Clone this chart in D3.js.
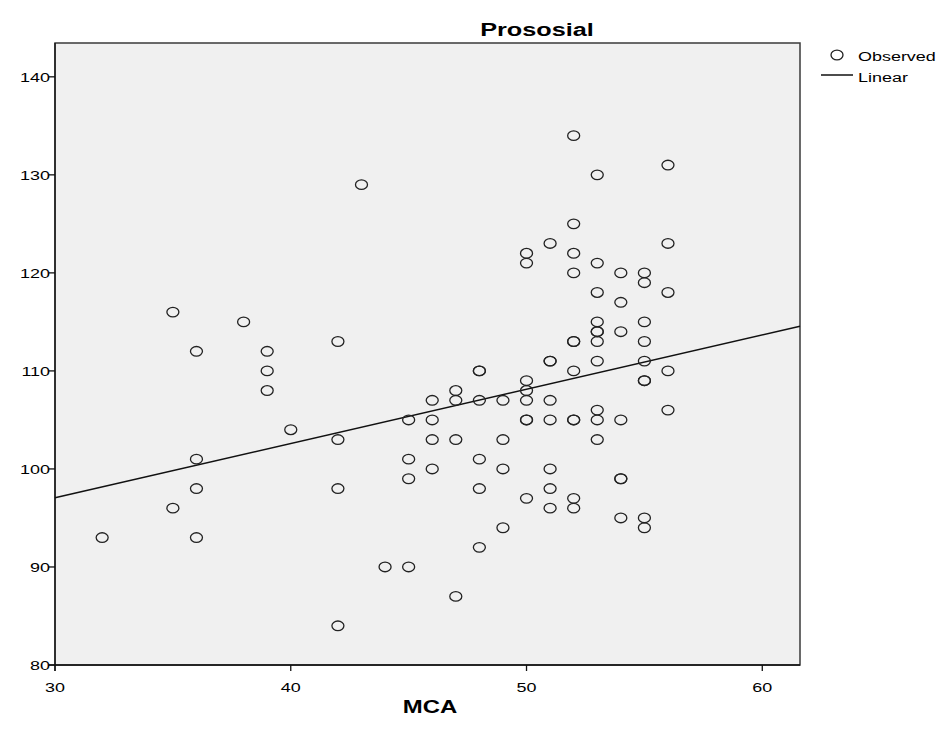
<!DOCTYPE html>
<html>
<head>
<meta charset="utf-8">
<script src="https://cdn.jsdelivr.net/npm/d3@7"></script>
<style>
	body { margin: 0; background: #fff; }
	text { font-family: "Liberation Sans", Arial, sans-serif; fill: #000; }
</style>
</head>
<body>
<svg id="chart" width="943" height="733"></svg>
<script>
// scatter values (duplicates drawn twice)
var mca = [
	32,
	35, 35,
	36, 36, 36, 36,
	38,
	39, 39, 39,
	40,
	42, 42, 42, 42,
	43,
	44,
	45, 45, 45, 45,
	46, 46, 46, 46,
	47, 47, 47, 47,
	48, 48, 48, 48, 48, 48,
	49, 49, 49, 49,
	50, 50, 50, 50, 50, 50, 50, 50,
	51, 51, 51, 51, 51, 51, 51, 51,
	52, 52, 52, 52, 52, 52, 52, 52, 52, 52, 52,
	53, 53, 53, 53, 53, 53, 53, 53, 53, 53, 53,
	54, 54, 54, 54, 54, 54, 54,
	55, 55, 55, 55, 55, 55, 55, 55, 55,
	56, 56, 56, 56, 56
];
var prososial = [
	93,
	116, 96,
	112, 101, 98, 93,
	115,
	112, 110, 108,
	104,
	113, 103, 98, 84,
	129,
	90,
	105, 101, 99, 90,
	107, 105, 103, 100,
	108, 107, 103, 87,
	110, 110, 107, 101, 98, 92,
	107, 103, 100, 94,
	122, 121, 109, 108, 107, 105, 105, 97,
	123, 111, 111, 107, 105, 100, 98, 96,
	134, 125, 122, 120, 113, 113, 110, 105, 105, 97, 96,
	130, 121, 118, 115, 114, 114, 113, 111, 106, 105, 103,
	120, 117, 114, 105, 99, 99, 95,
	120, 119, 115, 113, 111, 109, 109, 95, 94,
	131, 123, 118, 110, 106
];
var xTicks = [30, 40, 50, 60];
var yTicks = [80, 90, 100, 110, 120, 130, 140];
var legendLabels = ["Observed", "Linear"];

var svg = d3.select("#chart");
var plotLeft = 55, plotRight = 800, plotTop = 43, plotBottom = 665;
var stretch = 1.33; // glyphs in the original are wider than tall

var x = d3.scaleLinear().domain([30, 61.6]).range([plotLeft, plotRight]);
var y = d3.scaleLinear().domain([80, 143.45]).range([plotBottom, plotTop]);

// plot background
svg.append("rect")
	.attr("x", plotLeft).attr("y", plotTop)
	.attr("width", plotRight - plotLeft).attr("height", plotBottom - plotTop)
	.attr("fill", "#f0f0f0")
	.attr("stroke", "#3a3a3a")
	.attr("stroke-width", 1.5);

// linear fit from the data
var n = mca.length;
var mx = d3.mean(mca), my = d3.mean(prososial);
var sxy = 0, sxx = 0;
for (var i = 0; i < n; i++) {
	sxy += (mca[i] - mx) * (prososial[i] - my);
	sxx += (mca[i] - mx) * (mca[i] - mx);
}
var slope = sxy / sxx;
var intercept = my - slope * mx;
var xd = x.domain();

svg.append("line")
	.attr("x1", x(xd[0])).attr("y1", y(intercept + slope * xd[0]))
	.attr("x2", x(xd[1])).attr("y2", y(intercept + slope * xd[1]))
	.attr("stroke", "#111")
	.attr("stroke-width", 1.5);

// observed points
svg.append("g")
	.selectAll("ellipse")
	.data(d3.range(n))
	.enter().append("ellipse")
		.attr("cx", function(i) { return x(mca[i]); })
		.attr("cy", function(i) { return y(prososial[i]); })
		.attr("rx", 6)
		.attr("ry", 4.8)
		.attr("fill", "none")
		.attr("stroke", "#222")
		.attr("stroke-width", 1.3);

// axes
var axes = svg.append("g").attr("stroke", "#111").attr("stroke-width", 1.3);
axes.append("line")
	.attr("x1", plotLeft).attr("x2", plotLeft)
	.attr("y1", plotTop).attr("y2", plotBottom + 6);
axes.append("line")
	.attr("x1", plotLeft - 6).attr("x2", plotRight)
	.attr("y1", plotBottom).attr("y2", plotBottom);

axes.selectAll(".ytick")
	.data(yTicks)
	.enter().append("line")
		.attr("class", "ytick")
		.attr("x1", plotLeft - 6).attr("x2", plotLeft)
		.attr("y1", function(d) { return y(d); })
		.attr("y2", function(d) { return y(d); });

axes.selectAll(".xtick")
	.data(xTicks)
	.enter().append("line")
		.attr("class", "xtick")
		.attr("x1", function(d) { return x(d); })
		.attr("x2", function(d) { return x(d); })
		.attr("y1", plotBottom).attr("y2", plotBottom + 6);

svg.selectAll(".ylab")
	.data(yTicks)
	.enter().append("text")
		.attr("class", "ylab")
		.attr("transform", function(d) { return "translate(" + (plotLeft - 5) + "," + (y(d) + 5) + ") scale(" + stretch + ",1)"; })
		.attr("text-anchor", "end")
		.style("font-size", "13.5px")
		.text(function(d) { return d; });

svg.selectAll(".xlab")
	.data(xTicks)
	.enter().append("text")
		.attr("class", "xlab")
		.attr("transform", function(d) { return "translate(" + x(d) + "," + (plotBottom + 27) + ") scale(" + stretch + ",1)"; })
		.attr("text-anchor", "middle")
		.style("font-size", "13.5px")
		.text(function(d) { return d; });

// titles
svg.append("text")
	.attr("transform", "translate(537,36) scale(" + stretch + ",1)")
	.attr("text-anchor", "middle")
	.style("font-size", "19px")
	.style("font-weight", "bold")
	.text("Prososial");

svg.append("text")
	.attr("transform", "translate(430,713) scale(" + stretch + ",1)")
	.attr("text-anchor", "middle")
	.style("font-size", "18px")
	.style("font-weight", "bold")
	.text("MCA");

// legend
var legend = svg.append("g");
legend.append("ellipse")
	.attr("cx", 837).attr("cy", 55)
	.attr("rx", 6).attr("ry", 4.8)
	.attr("fill", "none").attr("stroke", "#222").attr("stroke-width", 1.3);
legend.append("line")
	.attr("x1", 821).attr("x2", 853)
	.attr("y1", 75).attr("y2", 75)
	.attr("stroke", "#111").attr("stroke-width", 1.5);
legend.selectAll("text")
	.data(legendLabels)
	.enter().append("text")
		.attr("transform", function(d, i) { return "translate(858," + (61 + i * 20.5) + ") scale(" + stretch + ",1)"; })
		.style("font-size", "13.5px")
		.text(function(d) { return d; });
</script>
</body>
</html>
